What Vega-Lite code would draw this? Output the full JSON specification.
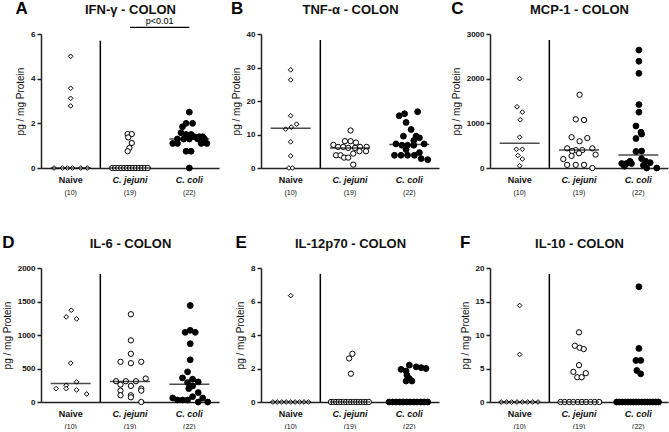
{
"$schema": "https://vega.github.io/schema/vega-lite/v6.json",
"padding": {"left": 2, "top": 0, "right": 2, "bottom": 0},
"columns": 3,
"spacing": {"row": 39, "column": 12},
"config": {
  "font": "Liberation Sans",
  "view": {"stroke": null},
  "axis": {"grid": false, "labelOverlap": false, "domainColor": "#222", "domainWidth": 1.5, "tickColor": "#222", "tickWidth": 1.5, "tickSize": 4, "labelColor": "#111", "labelFontWeight": "bold", "labelFontSize": 8, "labelPadding": 2, "titleFontSize": 10, "titleFontWeight": "normal", "titleColor": "#111", "titlePadding": 5},
  "point": {"opacity": 1},
  "title": {"color": "#000"}
},
"datasets": {
  "A": [
    {"group":"Naive","value":0,"dx":-0.56},{"group":"Naive","value":0,"dx":-0.28},{"group":"Naive","value":0,"dx":-0.11},{"group":"Naive","value":0,"dx":0.06},{"group":"Naive","value":0,"dx":0.34},{"group":"Naive","value":0,"dx":0.56},
    {"group":"Naive","value":5.0,"dx":0},{"group":"Naive","value":3.57,"dx":0},{"group":"Naive","value":3.12,"dx":0},{"group":"Naive","value":2.78,"dx":0},
    {"group":"C. jejuni","value":0,"dx":-0.6},{"group":"C. jejuni","value":0,"dx":-0.5},{"group":"C. jejuni","value":0,"dx":-0.4},{"group":"C. jejuni","value":0,"dx":-0.3},{"group":"C. jejuni","value":0,"dx":-0.2},{"group":"C. jejuni","value":0,"dx":-0.1},{"group":"C. jejuni","value":0,"dx":0},{"group":"C. jejuni","value":0,"dx":0.1},{"group":"C. jejuni","value":0,"dx":0.2},{"group":"C. jejuni","value":0,"dx":0.3},{"group":"C. jejuni","value":0,"dx":0.4},{"group":"C. jejuni","value":0,"dx":0.5},{"group":"C. jejuni","value":0,"dx":0.6},
    {"group":"C. jejuni","value":1.52,"dx":-0.08},{"group":"C. jejuni","value":1.52,"dx":0.06},{"group":"C. jejuni","value":1.37,"dx":-0.06},{"group":"C. jejuni","value":1.12,"dx":0.06},{"group":"C. jejuni","value":0.9,"dx":-0.02},{"group":"C. jejuni","value":0.75,"dx":-0.08},
    {"group":"C. coli","value":2.5,"dx":0},{"group":"C. coli","value":2.0,"dx":-0.11},{"group":"C. coli","value":2.0,"dx":0.11},{"group":"C. coli","value":1.85,"dx":-0.23},{"group":"C. coli","value":1.58,"dx":-0.28},{"group":"C. coli","value":1.5,"dx":-0.11},{"group":"C. coli","value":1.5,"dx":0.06},{"group":"C. coli","value":1.4,"dx":0.17},{"group":"C. coli","value":1.4,"dx":0.34},{"group":"C. coli","value":1.4,"dx":0.45},{"group":"C. coli","value":1.3,"dx":-0.4},{"group":"C. coli","value":1.3,"dx":-0.19},{"group":"C. coli","value":1.3,"dx":0},{"group":"C. coli","value":1.3,"dx":0.28},{"group":"C. coli","value":1.3,"dx":0.51},{"group":"C. coli","value":1.1,"dx":-0.56},{"group":"C. coli","value":1.1,"dx":-0.4},{"group":"C. coli","value":1.1,"dx":0.4},{"group":"C. coli","value":1.1,"dx":0.59},{"group":"C. coli","value":0.75,"dx":-0.11},{"group":"C. coli","value":0.75,"dx":0.06},{"group":"C. coli","value":0,"dx":0}
  ],
  "B": [
    {"group":"Naive","value":29.3,"dx":0},{"group":"Naive","value":26.3,"dx":0},{"group":"Naive","value":15.6,"dx":0},{"group":"Naive","value":13.1,"dx":0.2},{"group":"Naive","value":12.2,"dx":0.02},{"group":"Naive","value":11.6,"dx":-0.17},{"group":"Naive","value":7.8,"dx":0},{"group":"Naive","value":3.6,"dx":0},{"group":"Naive","value":0,"dx":-0.06},{"group":"Naive","value":0,"dx":0.06},
    {"group":"C. jejuni","value":11.2,"dx":0.02},{"group":"C. jejuni","value":8.0,"dx":-0.17},{"group":"C. jejuni","value":8.0,"dx":0.02},{"group":"C. jejuni","value":7.6,"dx":0.2},{"group":"C. jejuni","value":6.9,"dx":-0.56},{"group":"C. jejuni","value":6.3,"dx":-0.4},{"group":"C. jejuni","value":6.3,"dx":-0.23},{"group":"C. jejuni","value":6.3,"dx":0.34},{"group":"C. jejuni","value":6.3,"dx":0.56},{"group":"C. jejuni","value":6.0,"dx":-0.06},{"group":"C. jejuni","value":6.0,"dx":0.17},{"group":"C. jejuni","value":5.0,"dx":0.32},{"group":"C. jejuni","value":5.0,"dx":0.54},{"group":"C. jejuni","value":4.3,"dx":0.11},{"group":"C. jejuni","value":3.8,"dx":-0.47},{"group":"C. jejuni","value":3.8,"dx":-0.32},{"group":"C. jejuni","value":3.1,"dx":-0.2},{"group":"C. jejuni","value":3.1,"dx":-0.06},{"group":"C. jejuni","value":1.0,"dx":0.11},
    {"group":"C. coli","value":16.8,"dx":0.28},{"group":"C. coli","value":16.2,"dx":-0.16},{"group":"C. coli","value":15.6,"dx":-0.34},{"group":"C. coli","value":13.6,"dx":-0.11},{"group":"C. coli","value":11.5,"dx":0.06},{"group":"C. coli","value":9.5,"dx":-0.2},{"group":"C. coli","value":9.5,"dx":0.23},{"group":"C. coli","value":9.0,"dx":0.34},{"group":"C. coli","value":8.2,"dx":0.15},{"group":"C. coli","value":7.2,"dx":-0.45},{"group":"C. coli","value":7.2,"dx":0.5},{"group":"C. coli","value":6.8,"dx":-0.25},{"group":"C. coli","value":6.8,"dx":-0.06},{"group":"C. coli","value":6.8,"dx":0.15},{"group":"C. coli","value":5.5,"dx":-0.11},{"group":"C. coli","value":4.6,"dx":0.34},{"group":"C. coli","value":3.8,"dx":-0.5},{"group":"C. coli","value":3.8,"dx":-0.28},{"group":"C. coli","value":3.8,"dx":-0.06},{"group":"C. coli","value":3.8,"dx":0.17},{"group":"C. coli","value":2.8,"dx":0.4},{"group":"C. coli","value":2.5,"dx":0.62}
  ],
  "C": [
    {"group":"Naive","value":2000,"dx":0},{"group":"Naive","value":1370,"dx":-0.09},{"group":"Naive","value":1250,"dx":0.09},{"group":"Naive","value":1080,"dx":0.02},{"group":"Naive","value":690,"dx":0},{"group":"Naive","value":420,"dx":-0.11},{"group":"Naive","value":420,"dx":0.09},{"group":"Naive","value":280,"dx":-0.06},{"group":"Naive","value":200,"dx":0.09},{"group":"Naive","value":50,"dx":0},
    {"group":"C. jejuni","value":1640,"dx":0.02},{"group":"C. jejuni","value":1090,"dx":-0.11},{"group":"C. jejuni","value":1075,"dx":0.17},{"group":"C. jejuni","value":690,"dx":-0.25},{"group":"C. jejuni","value":670,"dx":0.28},{"group":"C. jejuni","value":600,"dx":0.02},{"group":"C. jejuni","value":440,"dx":-0.4},{"group":"C. jejuni","value":440,"dx":0.45},{"group":"C. jejuni","value":400,"dx":-0.11},{"group":"C. jejuni","value":400,"dx":0.11},{"group":"C. jejuni","value":380,"dx":-0.23},{"group":"C. jejuni","value":330,"dx":0},{"group":"C. jejuni","value":300,"dx":0.56},{"group":"C. jejuni","value":270,"dx":-0.25},{"group":"C. jejuni","value":200,"dx":-0.53},{"group":"C. jejuni","value":70,"dx":-0.4},{"group":"C. jejuni","value":70,"dx":-0.11},{"group":"C. jejuni","value":70,"dx":0.17},{"group":"C. jejuni","value":0,"dx":0.45},
    {"group":"C. coli","value":2640,"dx":0.02},{"group":"C. coli","value":2390,"dx":0.02},{"group":"C. coli","value":2120,"dx":0.02},{"group":"C. coli","value":1420,"dx":0.02},{"group":"C. coli","value":1250,"dx":0.02},{"group":"C. coli","value":940,"dx":-0.08},{"group":"C. coli","value":800,"dx":0.09},{"group":"C. coli","value":760,"dx":0.11},{"group":"C. coli","value":660,"dx":-0.08},{"group":"C. coli","value":380,"dx":0.11},{"group":"C. coli","value":370,"dx":-0.08},{"group":"C. coli","value":210,"dx":0.11},{"group":"C. coli","value":150,"dx":-0.28},{"group":"C. coli","value":150,"dx":0.25},{"group":"C. coli","value":120,"dx":0.4},{"group":"C. coli","value":100,"dx":-0.56},{"group":"C. coli","value":100,"dx":-0.4},{"group":"C. coli","value":100,"dx":-0.23},{"group":"C. coli","value":60,"dx":0.17},{"group":"C. coli","value":40,"dx":-0.47},{"group":"C. coli","value":0,"dx":0.28},{"group":"C. coli","value":0,"dx":0.62}
  ],
  "D": [
    {"group":"Naive","value":1370,"dx":0.02},{"group":"Naive","value":1270,"dx":-0.15},{"group":"Naive","value":1240,"dx":0.2},{"group":"Naive","value":580,"dx":0},{"group":"Naive","value":300,"dx":0.2},{"group":"Naive","value":250,"dx":-0.15},{"group":"Naive","value":200,"dx":-0.49},{"group":"Naive","value":200,"dx":-0.15},{"group":"Naive","value":180,"dx":0.2},{"group":"Naive","value":120,"dx":0.54},
    {"group":"C. jejuni","value":1310,"dx":0.03},{"group":"C. jejuni","value":920,"dx":0.03},{"group":"C. jejuni","value":720,"dx":0.03},{"group":"C. jejuni","value":600,"dx":-0.32},{"group":"C. jejuni","value":600,"dx":0.38},{"group":"C. jejuni","value":580,"dx":0.03},{"group":"C. jejuni","value":350,"dx":0.53},{"group":"C. jejuni","value":310,"dx":-0.47},{"group":"C. jejuni","value":310,"dx":-0.14},{"group":"C. jejuni","value":310,"dx":0.2},{"group":"C. jejuni","value":260,"dx":-0.32},{"group":"C. jejuni","value":240,"dx":0.03},{"group":"C. jejuni","value":200,"dx":0.38},{"group":"C. jejuni","value":170,"dx":-0.32},{"group":"C. jejuni","value":170,"dx":0.38},{"group":"C. jejuni","value":100,"dx":-0.32},{"group":"C. jejuni","value":100,"dx":0.03},{"group":"C. jejuni","value":70,"dx":0.03},{"group":"C. jejuni","value":0,"dx":0.38},
    {"group":"C. coli","value":1440,"dx":0.03},{"group":"C. coli","value":1070,"dx":0.03},{"group":"C. coli","value":1040,"dx":-0.14},{"group":"C. coli","value":1040,"dx":0.2},{"group":"C. coli","value":870,"dx":0.03},{"group":"C. coli","value":630,"dx":0.03},{"group":"C. coli","value":450,"dx":-0.06},{"group":"C. coli","value":360,"dx":-0.23},{"group":"C. coli","value":340,"dx":0.11},{"group":"C. coli","value":300,"dx":0.3},{"group":"C. coli","value":290,"dx":-0.06},{"group":"C. coli","value":240,"dx":0.11},{"group":"C. coli","value":200,"dx":-0.02},{"group":"C. coli","value":140,"dx":0.3},{"group":"C. coli","value":80,"dx":0.11},{"group":"C. coli","value":60,"dx":-0.56},{"group":"C. coli","value":60,"dx":0.45},{"group":"C. coli","value":30,"dx":-0.4},{"group":"C. coli","value":30,"dx":-0.23},{"group":"C. coli","value":30,"dx":-0.06},{"group":"C. coli","value":0,"dx":0.3},{"group":"C. coli","value":0,"dx":0.62}
  ],
  "E": [
    {"group":"Naive","value":6.35,"dx":0},{"group":"Naive","value":0,"dx":-0.6},{"group":"Naive","value":0,"dx":-0.45},{"group":"Naive","value":0,"dx":-0.3},{"group":"Naive","value":0,"dx":-0.15},{"group":"Naive","value":0,"dx":0},{"group":"Naive","value":0,"dx":0.15},{"group":"Naive","value":0,"dx":0.3},{"group":"Naive","value":0,"dx":0.45},{"group":"Naive","value":0,"dx":0.6},
    {"group":"C. jejuni","value":2.88,"dx":0.08},{"group":"C. jejuni","value":2.6,"dx":-0.03},{"group":"C. jejuni","value":1.69,"dx":0.03},
    {"group":"C. jejuni","value":0,"dx":-0.64},{"group":"C. jejuni","value":0,"dx":-0.555},{"group":"C. jejuni","value":0,"dx":-0.47},{"group":"C. jejuni","value":0,"dx":-0.385},{"group":"C. jejuni","value":0,"dx":-0.3},{"group":"C. jejuni","value":0,"dx":-0.215},{"group":"C. jejuni","value":0,"dx":-0.13},{"group":"C. jejuni","value":0,"dx":-0.045},{"group":"C. jejuni","value":0,"dx":0.04},{"group":"C. jejuni","value":0,"dx":0.125},{"group":"C. jejuni","value":0,"dx":0.21},{"group":"C. jejuni","value":0,"dx":0.295},{"group":"C. jejuni","value":0,"dx":0.38},{"group":"C. jejuni","value":0,"dx":0.465},{"group":"C. jejuni","value":0,"dx":0.55},{"group":"C. jejuni","value":0,"dx":0.635},
    {"group":"C. coli","value":2.2,"dx":0},{"group":"C. coli","value":2.1,"dx":0.23},{"group":"C. coli","value":2.05,"dx":0.4},{"group":"C. coli","value":2.0,"dx":0.56},{"group":"C. coli","value":1.95,"dx":-0.28},{"group":"C. coli","value":1.85,"dx":-0.11},{"group":"C. coli","value":1.6,"dx":-0.08},{"group":"C. coli","value":1.4,"dx":0},{"group":"C. coli","value":1.25,"dx":-0.11},{"group":"C. coli","value":1.25,"dx":0.09},
    {"group":"C. coli","value":0,"dx":-0.68},{"group":"C. coli","value":0,"dx":-0.56},{"group":"C. coli","value":0,"dx":-0.44},{"group":"C. coli","value":0,"dx":-0.33},{"group":"C. coli","value":0,"dx":-0.21},{"group":"C. coli","value":0,"dx":-0.09},{"group":"C. coli","value":0,"dx":0.03},{"group":"C. coli","value":0,"dx":0.15},{"group":"C. coli","value":0,"dx":0.26},{"group":"C. coli","value":0,"dx":0.38},{"group":"C. coli","value":0,"dx":0.5},{"group":"C. coli","value":0,"dx":0.62}
  ],
  "F": [
    {"group":"Naive","value":14.4,"dx":0},{"group":"Naive","value":7.1,"dx":0},{"group":"Naive","value":0,"dx":-0.62},{"group":"Naive","value":0,"dx":-0.44},{"group":"Naive","value":0,"dx":-0.27},{"group":"Naive","value":0,"dx":-0.09},{"group":"Naive","value":0,"dx":0.09},{"group":"Naive","value":0,"dx":0.27},{"group":"Naive","value":0,"dx":0.44},{"group":"Naive","value":0,"dx":0.62},
    {"group":"C. jejuni","value":10.4,"dx":0},{"group":"C. jejuni","value":8.4,"dx":-0.14},{"group":"C. jejuni","value":8.1,"dx":0.02},{"group":"C. jejuni","value":7.9,"dx":0.16},{"group":"C. jejuni","value":5.5,"dx":0},{"group":"C. jejuni","value":4.5,"dx":-0.19},{"group":"C. jejuni","value":4.3,"dx":0.23},{"group":"C. jejuni","value":3.7,"dx":-0.06},{"group":"C. jejuni","value":3.7,"dx":0.09},
    {"group":"C. jejuni","value":0,"dx":-0.62},{"group":"C. jejuni","value":0,"dx":-0.48},{"group":"C. jejuni","value":0,"dx":-0.33},{"group":"C. jejuni","value":0,"dx":-0.19},{"group":"C. jejuni","value":0,"dx":-0.04},{"group":"C. jejuni","value":0,"dx":0.1},{"group":"C. jejuni","value":0,"dx":0.24},{"group":"C. jejuni","value":0,"dx":0.39},{"group":"C. jejuni","value":0,"dx":0.53},{"group":"C. jejuni","value":0,"dx":0.68},
    {"group":"C. coli","value":17.2,"dx":0.02},{"group":"C. coli","value":8.0,"dx":0.02},{"group":"C. coli","value":6.2,"dx":-0.08},{"group":"C. coli","value":6.2,"dx":0.08},{"group":"C. coli","value":4.7,"dx":-0.05},{"group":"C. coli","value":4.2,"dx":0.08},
    {"group":"C. coli","value":0,"dx":-0.73},{"group":"C. coli","value":0,"dx":-0.64},{"group":"C. coli","value":0,"dx":-0.54},{"group":"C. coli","value":0,"dx":-0.45},{"group":"C. coli","value":0,"dx":-0.35},{"group":"C. coli","value":0,"dx":-0.26},{"group":"C. coli","value":0,"dx":-0.17},{"group":"C. coli","value":0,"dx":-0.07},{"group":"C. coli","value":0,"dx":0.02},{"group":"C. coli","value":0,"dx":0.12},{"group":"C. coli","value":0,"dx":0.21},{"group":"C. coli","value":0,"dx":0.3},{"group":"C. coli","value":0,"dx":0.4},{"group":"C. coli","value":0,"dx":0.49},{"group":"C. coli","value":0,"dx":0.59},{"group":"C. coli","value":0,"dx":0.68}
  ]
},
"concat": [
  {
    "width": 178, "height": 134,
    "title": {"text": "A", "anchor": "start", "frame": "bounds", "fontSize": 17, "fontWeight": "bold", "offset": -15},
    "resolve": {"axis": {"x": "independent"}},
    "layer": [
      {"data": {"name": "A"},
       "mark": {"type": "point", "filled": true, "stroke": "black", "strokeWidth": 1, "opacity": 1},
       "encoding": {
         "x": {"field": "group", "type": "nominal", "scale": {"domain": ["Naive", "C. jejuni", "C. coli"], "paddingInner": 0, "paddingOuter": 0}, "axis": {"title": null, "ticks": false, "labelAngle": 0, "labelPadding": 7, "labelFontSize": 9, "labelFontStyle": {"condition": {"test": "datum.value != 'Naive'", "value": "italic"}, "value": "normal"}}},
         "xOffset": {"field": "dx", "type": "quantitative", "scale": {"domain": [-1, 1], "nice": false, "zero": false}},
         "y": {"field": "value", "type": "quantitative", "scale": {"domain": [0, 6], "nice": false}, "axis": {"values": [0, 2, 4, 6], "tickCount": 10, "title": "pg / mg Protein", "format": "d"}},
         "shape": {"field": "group", "type": "nominal", "scale": {"domain": ["Naive", "C. jejuni", "C. coli"], "range": ["diamond", "circle", "circle"]}, "legend": null},
         "fill": {"field": "group", "type": "nominal", "scale": {"domain": ["Naive", "C. jejuni", "C. coli"], "range": ["white", "white", "black"]}, "legend": null},
         "size": {"field": "group", "type": "ordinal", "scale": {"domain": ["Naive", "C. jejuni", "C. coli"], "range": [22, 34, 46]}, "legend": null}
       }},
      {"data": {"values": [{"group": "Naive", "value": 0}, {"group": "C. jejuni", "value": 0}, {"group": "C. coli", "value": 1.3}]},
       "mark": {"type": "tick", "color": "black", "size": 40, "thickness": 1.5},
       "encoding": {
         "x": {"field": "group", "type": "nominal", "axis": {"orient": "bottom", "offset": 18, "title": null, "domain": false, "ticks": false, "labelAngle": 0, "labelPadding": 2, "labelFontSize": 7, "labelFontWeight": "normal", "labelExpr": "datum.value == 'Naive' ? '(10)' : datum.value == 'C. jejuni' ? '(19)' : '(22)'"}},
         "y": {"field": "value", "type": "quantitative", "axis": {"values": [0, 2, 4, 6], "tickCount": 10, "title": "pg / mg Protein", "format": "d"}}
       }},
      {"data": {"values": [{}]},
       "mark": {"type": "rule", "color": "black", "strokeWidth": 1.5},
       "encoding": {
         "x": {"datum": "C. jejuni", "type": "nominal", "axis": {"orient": "top", "title": "IFN-γ - COLON", "titleFontSize": 13, "titleFontWeight": "bold", "titlePadding": 18, "labels": false, "ticks": false, "domain": false}},
         "xOffset": {"datum": -1, "type": "quantitative"},
         "y": {"datum": 0, "type": "quantitative", "axis": {"values": [0, 2, 4, 6], "tickCount": 10, "title": "pg / mg Protein", "format": "d"}},
         "y2": {"datum": 5.7}
       }},
      {"data": {"values": [{}]},
       "mark": {"type": "rule", "color": "black", "strokeWidth": 1.2},
       "encoding": {
         "x": {"datum": "C. jejuni", "type": "nominal", "axis": null},
         "x2": {"datum": "C. coli"},
         "y": {"datum": 6.3, "type": "quantitative", "axis": {"values": [0, 2, 4, 6], "tickCount": 10, "title": "pg / mg Protein", "format": "d"}}
       }},
      {"data": {"values": [{}]},
       "mark": {"type": "text", "fontSize": 9, "baseline": "bottom", "dy": -1},
       "encoding": {
         "x": {"datum": "C. jejuni", "type": "nominal", "axis": null},
         "xOffset": {"datum": 1, "type": "quantitative"},
         "y": {"datum": 6.3, "type": "quantitative", "axis": {"values": [0, 2, 4, 6], "tickCount": 10, "title": "pg / mg Protein", "format": "d"}},
         "text": {"value": "p<0.01"}
       }}
    ]
  },
  {
    "width": 178, "height": 134,
    "title": {"text": "B", "anchor": "start", "frame": "bounds", "fontSize": 17, "fontWeight": "bold", "offset": -15},
    "resolve": {"axis": {"x": "independent"}},
    "layer": [
      {"data": {"name": "B"},
       "mark": {"type": "point", "filled": true, "stroke": "black", "strokeWidth": 1, "opacity": 1},
       "encoding": {
         "x": {"field": "group", "type": "nominal", "scale": {"domain": ["Naive", "C. jejuni", "C. coli"], "paddingInner": 0, "paddingOuter": 0}, "axis": {"title": null, "ticks": false, "labelAngle": 0, "labelPadding": 7, "labelFontSize": 9, "labelFontStyle": {"condition": {"test": "datum.value != 'Naive'", "value": "italic"}, "value": "normal"}}},
         "xOffset": {"field": "dx", "type": "quantitative", "scale": {"domain": [-1, 1], "nice": false, "zero": false}},
         "y": {"field": "value", "type": "quantitative", "scale": {"domain": [0, 40], "nice": false}, "axis": {"values": [0, 10, 20, 30, 40], "tickCount": 10, "labelOverlap": false, "title": "pg / mg Protein", "format": "d"}},
         "shape": {"field": "group", "type": "nominal", "scale": {"domain": ["Naive", "C. jejuni", "C. coli"], "range": ["diamond", "circle", "circle"]}, "legend": null},
         "fill": {"field": "group", "type": "nominal", "scale": {"domain": ["Naive", "C. jejuni", "C. coli"], "range": ["white", "white", "black"]}, "legend": null},
         "size": {"field": "group", "type": "ordinal", "scale": {"domain": ["Naive", "C. jejuni", "C. coli"], "range": [22, 34, 46]}, "legend": null}
       }},
      {"data": {"values": [{"group": "Naive", "value": 11.9}, {"group": "C. jejuni", "value": 6.0}, {"group": "C. coli", "value": 7.0}]},
       "mark": {"type": "tick", "color": "black", "size": 40, "thickness": 1.5},
       "encoding": {
         "x": {"field": "group", "type": "nominal", "axis": {"orient": "bottom", "offset": 18, "title": null, "domain": false, "ticks": false, "labelAngle": 0, "labelPadding": 2, "labelFontSize": 7, "labelFontWeight": "normal", "labelExpr": "datum.value == 'Naive' ? '(10)' : datum.value == 'C. jejuni' ? '(19)' : '(22)'"}},
         "y": {"field": "value", "type": "quantitative", "axis": {"values": [0, 10, 20, 30, 40], "tickCount": 10, "labelOverlap": false, "title": "pg / mg Protein", "format": "d"}}
       }},
      {"data": {"values": [{}]},
       "mark": {"type": "rule", "color": "black", "strokeWidth": 1.5},
       "encoding": {
         "x": {"datum": "C. jejuni", "type": "nominal", "axis": {"orient": "top", "title": "TNF-α - COLON", "titleFontSize": 13, "titleFontWeight": "bold", "titlePadding": 18, "labels": false, "ticks": false, "domain": false}},
         "xOffset": {"datum": -1, "type": "quantitative"},
         "y": {"datum": 0, "type": "quantitative", "axis": {"values": [0, 10, 20, 30, 40], "tickCount": 10, "labelOverlap": false, "title": "pg / mg Protein", "format": "d"}},
         "y2": {"datum": 38.2}
       }}
    ]
  },
  {
    "width": 178, "height": 134,
    "title": {"text": "C", "anchor": "start", "frame": "bounds", "fontSize": 17, "fontWeight": "bold", "offset": -15},
    "resolve": {"axis": {"x": "independent"}},
    "layer": [
      {"data": {"name": "C"},
       "mark": {"type": "point", "filled": true, "stroke": "black", "strokeWidth": 1, "opacity": 1},
       "encoding": {
         "x": {"field": "group", "type": "nominal", "scale": {"domain": ["Naive", "C. jejuni", "C. coli"], "paddingInner": 0, "paddingOuter": 0}, "axis": {"title": null, "ticks": false, "labelAngle": 0, "labelPadding": 7, "labelFontSize": 9, "labelFontStyle": {"condition": {"test": "datum.value != 'Naive'", "value": "italic"}, "value": "normal"}}},
         "xOffset": {"field": "dx", "type": "quantitative", "scale": {"domain": [-1, 1], "nice": false, "zero": false}},
         "y": {"field": "value", "type": "quantitative", "scale": {"domain": [0, 3000], "nice": false}, "axis": {"values": [0, 1000, 2000, 3000], "tickCount": 10, "title": "pg / mg Protein", "format": "d"}},
         "shape": {"field": "group", "type": "nominal", "scale": {"domain": ["Naive", "C. jejuni", "C. coli"], "range": ["diamond", "circle", "circle"]}, "legend": null},
         "fill": {"field": "group", "type": "nominal", "scale": {"domain": ["Naive", "C. jejuni", "C. coli"], "range": ["white", "white", "black"]}, "legend": null},
         "size": {"field": "group", "type": "ordinal", "scale": {"domain": ["Naive", "C. jejuni", "C. coli"], "range": [22, 34, 46]}, "legend": null}
       }},
      {"data": {"values": [{"group": "Naive", "value": 555}, {"group": "C. jejuni", "value": 405}, {"group": "C. coli", "value": 290}]},
       "mark": {"type": "tick", "color": "black", "size": 40, "thickness": 1.5},
       "encoding": {
         "x": {"field": "group", "type": "nominal", "axis": {"orient": "bottom", "offset": 18, "title": null, "domain": false, "ticks": false, "labelAngle": 0, "labelPadding": 2, "labelFontSize": 7, "labelFontWeight": "normal", "labelExpr": "datum.value == 'Naive' ? '(10)' : datum.value == 'C. jejuni' ? '(19)' : '(22)'"}},
         "y": {"field": "value", "type": "quantitative", "axis": {"values": [0, 1000, 2000, 3000], "tickCount": 10, "title": "pg / mg Protein", "format": "d"}}
       }},
      {"data": {"values": [{}]},
       "mark": {"type": "rule", "color": "black", "strokeWidth": 1.5},
       "encoding": {
         "x": {"datum": "C. jejuni", "type": "nominal", "axis": {"orient": "top", "title": "MCP-1 - COLON", "titleFontSize": 13, "titleFontWeight": "bold", "titlePadding": 18, "labels": false, "ticks": false, "domain": false}},
         "xOffset": {"datum": -1, "type": "quantitative"},
         "y": {"datum": 0, "type": "quantitative", "axis": {"values": [0, 1000, 2000, 3000], "tickCount": 10, "title": "pg / mg Protein", "format": "d"}},
         "y2": {"datum": 2866}
       }}
    ]
  },
  {
    "width": 178, "height": 134,
    "title": {"text": "D", "anchor": "start", "frame": "bounds", "fontSize": 17, "fontWeight": "bold", "offset": -15},
    "resolve": {"axis": {"x": "independent"}},
    "layer": [
      {"data": {"name": "D"},
       "mark": {"type": "point", "filled": true, "stroke": "black", "strokeWidth": 1, "opacity": 1},
       "encoding": {
         "x": {"field": "group", "type": "nominal", "scale": {"domain": ["Naive", "C. jejuni", "C. coli"], "paddingInner": 0, "paddingOuter": 0}, "axis": {"title": null, "ticks": false, "labelAngle": 0, "labelPadding": 7, "labelFontSize": 9, "labelFontStyle": {"condition": {"test": "datum.value != 'Naive'", "value": "italic"}, "value": "normal"}}},
         "xOffset": {"field": "dx", "type": "quantitative", "scale": {"domain": [-1, 1], "nice": false, "zero": false}},
         "y": {"field": "value", "type": "quantitative", "scale": {"domain": [0, 2000], "nice": false}, "axis": {"values": [0, 500, 1000, 1500, 2000], "tickCount": 10, "title": "pg / mg Protein", "format": "d"}},
         "shape": {"field": "group", "type": "nominal", "scale": {"domain": ["Naive", "C. jejuni", "C. coli"], "range": ["diamond", "circle", "circle"]}, "legend": null},
         "fill": {"field": "group", "type": "nominal", "scale": {"domain": ["Naive", "C. jejuni", "C. coli"], "range": ["white", "white", "black"]}, "legend": null},
         "size": {"field": "group", "type": "ordinal", "scale": {"domain": ["Naive", "C. jejuni", "C. coli"], "range": [22, 34, 46]}, "legend": null}
       }},
      {"data": {"values": [{"group": "Naive", "value": 275}, {"group": "C. jejuni", "value": 305}, {"group": "C. coli", "value": 265}]},
       "mark": {"type": "tick", "color": "black", "size": 40, "thickness": 1.5},
       "encoding": {
         "x": {"field": "group", "type": "nominal", "axis": {"orient": "bottom", "offset": 18, "title": null, "domain": false, "ticks": false, "labelAngle": 0, "labelPadding": 2, "labelFontSize": 7, "labelFontWeight": "normal", "labelExpr": "datum.value == 'Naive' ? '(10)' : datum.value == 'C. jejuni' ? '(19)' : '(22)'"}},
         "y": {"field": "value", "type": "quantitative", "axis": {"values": [0, 500, 1000, 1500, 2000], "tickCount": 10, "title": "pg / mg Protein", "format": "d"}}
       }},
      {"data": {"values": [{}]},
       "mark": {"type": "rule", "color": "black", "strokeWidth": 1.5},
       "encoding": {
         "x": {"datum": "C. jejuni", "type": "nominal", "axis": {"orient": "top", "title": "IL-6 - COLON", "titleFontSize": 13, "titleFontWeight": "bold", "titlePadding": 18, "labels": false, "ticks": false, "domain": false}},
         "xOffset": {"datum": -1, "type": "quantitative"},
         "y": {"datum": 0, "type": "quantitative", "axis": {"values": [0, 500, 1000, 1500, 2000], "tickCount": 10, "title": "pg / mg Protein", "format": "d"}},
         "y2": {"datum": 1911}
       }}
    ]
  },
  {
    "width": 178, "height": 134,
    "title": {"text": "E", "anchor": "start", "frame": "bounds", "fontSize": 17, "fontWeight": "bold", "offset": -15},
    "resolve": {"axis": {"x": "independent"}},
    "layer": [
      {"data": {"name": "E"},
       "mark": {"type": "point", "filled": true, "stroke": "black", "strokeWidth": 1, "opacity": 1},
       "encoding": {
         "x": {"field": "group", "type": "nominal", "scale": {"domain": ["Naive", "C. jejuni", "C. coli"], "paddingInner": 0, "paddingOuter": 0}, "axis": {"title": null, "ticks": false, "labelAngle": 0, "labelPadding": 7, "labelFontSize": 9, "labelFontStyle": {"condition": {"test": "datum.value != 'Naive'", "value": "italic"}, "value": "normal"}}},
         "xOffset": {"field": "dx", "type": "quantitative", "scale": {"domain": [-1, 1], "nice": false, "zero": false}},
         "y": {"field": "value", "type": "quantitative", "scale": {"domain": [0, 8], "nice": false}, "axis": {"values": [0, 2, 4, 6, 8], "tickCount": 10, "title": "pg / mg Protein", "format": "d"}},
         "shape": {"field": "group", "type": "nominal", "scale": {"domain": ["Naive", "C. jejuni", "C. coli"], "range": ["diamond", "circle", "circle"]}, "legend": null},
         "fill": {"field": "group", "type": "nominal", "scale": {"domain": ["Naive", "C. jejuni", "C. coli"], "range": ["white", "white", "black"]}, "legend": null},
         "size": {"field": "group", "type": "ordinal", "scale": {"domain": ["Naive", "C. jejuni", "C. coli"], "range": [22, 34, 46]}, "legend": null}
       }},
      {"data": {"values": [{"group": "Naive", "value": 0}, {"group": "C. jejuni", "value": 0}, {"group": "C. coli", "value": 0}]},
       "mark": {"type": "tick", "color": "black", "size": 40, "thickness": 1.5},
       "encoding": {
         "x": {"field": "group", "type": "nominal", "axis": {"orient": "bottom", "offset": 18, "title": null, "domain": false, "ticks": false, "labelAngle": 0, "labelPadding": 2, "labelFontSize": 7, "labelFontWeight": "normal", "labelExpr": "datum.value == 'Naive' ? '(10)' : datum.value == 'C. jejuni' ? '(19)' : '(22)'"}},
         "y": {"field": "value", "type": "quantitative", "axis": {"values": [0, 2, 4, 6, 8], "tickCount": 10, "title": "pg / mg Protein", "format": "d"}}
       }},
      {"data": {"values": [{}]},
       "mark": {"type": "rule", "color": "black", "strokeWidth": 1.5},
       "encoding": {
         "x": {"datum": "C. jejuni", "type": "nominal", "axis": {"orient": "top", "title": "IL-12p70 - COLON", "titleFontSize": 13, "titleFontWeight": "bold", "titlePadding": 18, "labels": false, "ticks": false, "domain": false}},
         "xOffset": {"datum": -1, "type": "quantitative"},
         "y": {"datum": 0, "type": "quantitative", "axis": {"values": [0, 2, 4, 6, 8], "tickCount": 10, "title": "pg / mg Protein", "format": "d"}},
         "y2": {"datum": 7.65}
       }}
    ]
  },
  {
    "width": 178, "height": 134,
    "title": {"text": "F", "anchor": "start", "frame": "bounds", "fontSize": 17, "fontWeight": "bold", "offset": -15},
    "resolve": {"axis": {"x": "independent"}},
    "layer": [
      {"data": {"name": "F"},
       "mark": {"type": "point", "filled": true, "stroke": "black", "strokeWidth": 1, "opacity": 1},
       "encoding": {
         "x": {"field": "group", "type": "nominal", "scale": {"domain": ["Naive", "C. jejuni", "C. coli"], "paddingInner": 0, "paddingOuter": 0}, "axis": {"title": null, "ticks": false, "labelAngle": 0, "labelPadding": 7, "labelFontSize": 9, "labelFontStyle": {"condition": {"test": "datum.value != 'Naive'", "value": "italic"}, "value": "normal"}}},
         "xOffset": {"field": "dx", "type": "quantitative", "scale": {"domain": [-1, 1], "nice": false, "zero": false}},
         "y": {"field": "value", "type": "quantitative", "scale": {"domain": [0, 20], "nice": false}, "axis": {"values": [0, 5, 10, 15, 20], "tickCount": 10, "title": "pg / mg Protein", "format": "d"}},
         "shape": {"field": "group", "type": "nominal", "scale": {"domain": ["Naive", "C. jejuni", "C. coli"], "range": ["diamond", "circle", "circle"]}, "legend": null},
         "fill": {"field": "group", "type": "nominal", "scale": {"domain": ["Naive", "C. jejuni", "C. coli"], "range": ["white", "white", "black"]}, "legend": null},
         "size": {"field": "group", "type": "ordinal", "scale": {"domain": ["Naive", "C. jejuni", "C. coli"], "range": [22, 34, 46]}, "legend": null}
       }},
      {"data": {"values": [{"group": "Naive", "value": 0}, {"group": "C. jejuni", "value": 0}, {"group": "C. coli", "value": 0}]},
       "mark": {"type": "tick", "color": "black", "size": 40, "thickness": 1.5},
       "encoding": {
         "x": {"field": "group", "type": "nominal", "axis": {"orient": "bottom", "offset": 18, "title": null, "domain": false, "ticks": false, "labelAngle": 0, "labelPadding": 2, "labelFontSize": 7, "labelFontWeight": "normal", "labelExpr": "datum.value == 'Naive' ? '(10)' : datum.value == 'C. jejuni' ? '(19)' : '(22)'"}},
         "y": {"field": "value", "type": "quantitative", "axis": {"values": [0, 5, 10, 15, 20], "tickCount": 10, "title": "pg / mg Protein", "format": "d"}}
       }},
      {"data": {"values": [{}]},
       "mark": {"type": "rule", "color": "black", "strokeWidth": 1.5},
       "encoding": {
         "x": {"datum": "C. jejuni", "type": "nominal", "axis": {"orient": "top", "title": "IL-10 - COLON", "titleFontSize": 13, "titleFontWeight": "bold", "titlePadding": 18, "labels": false, "ticks": false, "domain": false}},
         "xOffset": {"datum": -1, "type": "quantitative"},
         "y": {"datum": 0, "type": "quantitative", "axis": {"values": [0, 5, 10, 15, 20], "tickCount": 10, "title": "pg / mg Protein", "format": "d"}},
         "y2": {"datum": 19.1}
       }}
    ]
  }
]
}
